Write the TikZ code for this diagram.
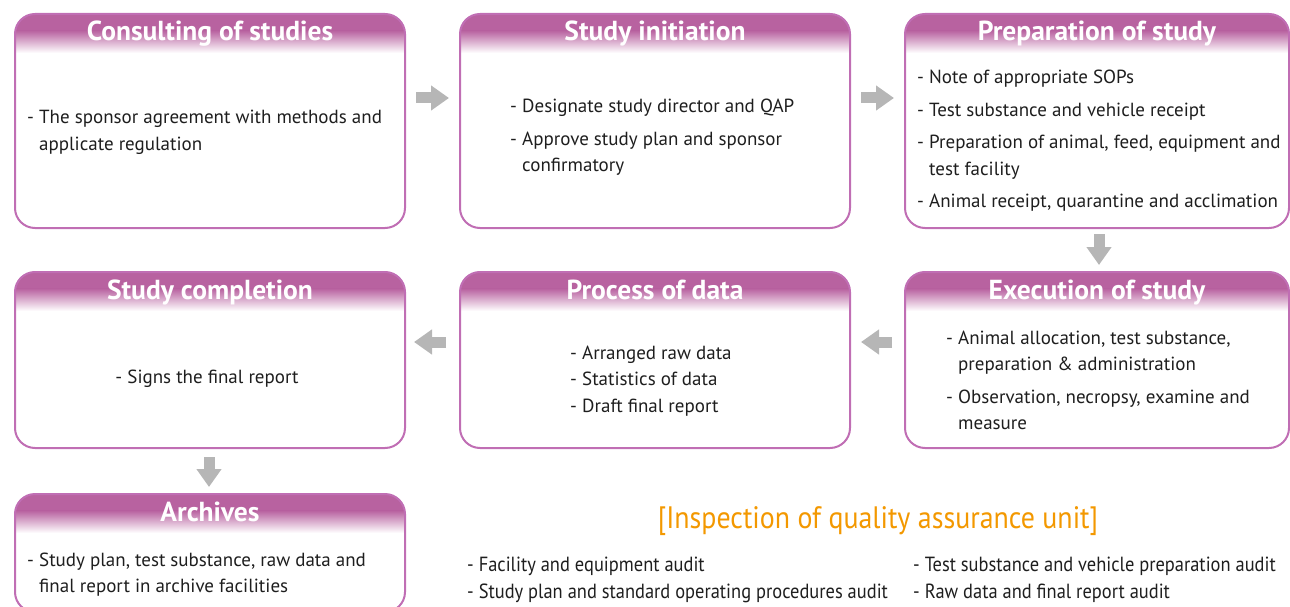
\documentclass[tikz,border=0pt]{standalone}
\usepackage{fontspec}
\setmainfont{PT Sans}
\newfontfamily\condfont[FakeStretch=0.9]{PT Sans}
\usetikzlibrary{arrows.meta}
\definecolor{hdr}{RGB}{184,98,160}
\definecolor{brd}{RGB}{192,110,180}
\definecolor{agray}{RGB}{182,182,182}
\definecolor{qaor}{RGB}{243,152,0}
\definecolor{txt}{RGB}{30,30,30}
\newcommand\dsh{\makebox[12pt][l]{-}}
\tikzset{
  box/.style={draw=brd, line width=2pt, rounded corners=20pt, inner sep=0pt,
    path picture={
      \fill[hdr, sharp corners] (path picture bounding box.north west) rectangle ([yshift=-17pt]path picture bounding box.north east);
      \shade[top color=hdr, bottom color=white, sharp corners]
      ([yshift=-16.5pt]path picture bounding box.north west) rectangle ([yshift=-39pt]path picture bounding box.north east);}},
  ttl/.style={text=white, font=\fontsize{27.5}{30}\selectfont\bfseries, inner sep=0pt, anchor=base},
  body/.style={text=txt, font=\fontsize{19}{26.5}\selectfont, inner sep=0pt, anchor=base west, align=left},
  garrow/.style={draw=agray, line width=11pt, -{Triangle[width=24pt,length=18pt]}},
  qa/.style={text=txt, font=\condfont\fontsize{20.5}{27}\selectfont, inner sep=0pt, anchor=base west, align=left},
}
\begin{document}
\begin{tikzpicture}[x=1pt,y=-1pt]
\useasboundingbox (0,0) rectangle (1290,607);
% boxes
\node[box, minimum width=390pt, minimum height=214pt] (c1) at (210,121) {};
\node[box, minimum width=390pt, minimum height=214pt] (c2) at (655,121) {};
\node[box, minimum width=384pt, minimum height=214pt] (c3) at (1097,121) {};
\node[box, minimum width=390pt, minimum height=176pt] (c4) at (210,360) {};
\node[box, minimum width=390pt, minimum height=176pt] (c5) at (655,360) {};
\node[box, minimum width=384pt, minimum height=176pt] (c6) at (1097,360) {};
\node[box, minimum width=390pt, minimum height=118pt] (c7) at (210,553) {};
% titles
\node[ttl] (t1) at ([yshift=-28pt]c1.north) {Consulting of studies};
\node[ttl] (t2) at ([yshift=-28pt]c2.north) {Study initiation};
\node[ttl] (t3) at ([yshift=-28pt]c3.north) {Preparation of study};
\node[ttl] (t4) at ([yshift=-28pt]c4.north) {Study completion};
\node[ttl] (t5) at ([yshift=-28pt]c5.north) {Process of data};
\node[ttl] (t6) at ([yshift=-28pt]c6.north) {Execution of study};
\node[ttl] (t7) at ([yshift=-28pt]c7.north) {Archives};
% bodies
\node[body] (b1) at (27,124) {\begin{tabular}[t]{@{}l@{}l@{}}\dsh & The sponsor agreement with methods and\\ & applicate regulation\end{tabular}};
\node[body] (b2) at (510,113) {\begin{tabular}[t]{@{}l@{}l@{}}\dsh & Designate study director and QAP\\[6pt] \dsh & Approve study plan and sponsor\\ & confirmatory\end{tabular}};
\node[body] (b3) at (917,84) {\begin{tabular}[t]{@{}l@{}l@{}}\dsh & Note of appropriate SOPs\\[6pt] \dsh & Test substance and vehicle receipt\\[6pt] \dsh & Preparation of animal, feed, equipment and\\ & test facility\\[6pt] \dsh & Animal receipt, quarantine and acclimation\end{tabular}};
\node[body, anchor=base] (b4) at (207,383) {\dsh Signs the final report};
\node[body] (b5) at (570,359) {\begin{tabular}[t]{@{}l@{}l@{}}\dsh & Arranged raw data\\ \dsh & Statistics of data\\ \dsh & Draft final report\end{tabular}};
\node[body] (b6) at (946,344) {\begin{tabular}[t]{@{}l@{}l@{}}\dsh & Animal allocation, test substance,\\ & preparation \& administration\\[6pt] \dsh & Observation, necropsy, examine and\\ & measure\end{tabular}};
\node[body] (b7) at (27,566) {\begin{tabular}[t]{@{}l@{}l@{}}\dsh & Study plan, test substance, raw data and\\ & final report in archive facilities\end{tabular}};
% QA
\node[text=qaor, font=\condfont\fontsize{31}{34}\selectfont, inner sep=0pt] (qt) at (878,521) {[Inspection of quality assurance unit]};
\node[qa] (q1) at (467,571) {\begin{tabular}[t]{@{}l@{}}- Facility and equipment audit\\- Study plan and standard operating procedures audit\end{tabular}};
\node[qa] (q2) at (913,571) {\begin{tabular}[t]{@{}l@{}}- Test substance and vehicle preparation audit\\- Raw data and final report audit\end{tabular}};
% arrows
\draw[garrow] ([xshift=10pt,yshift=23pt]c1.east) -- ([xshift=-10pt,yshift=23pt]c2.west);
\draw[garrow] ([xshift=10pt,yshift=23pt]c2.east) -- ([xshift=-10pt,yshift=23pt]c3.west);
\draw[garrow] ([xshift=2pt,yshift=-5pt]c3.south) -- ([xshift=2pt,yshift=6pt]c6.north);
\draw[garrow] ([xshift=-12pt,yshift=18pt]c6.west) -- ([xshift=10pt,yshift=18pt]c5.east);
\draw[garrow] ([xshift=-13pt,yshift=18pt]c5.west) -- ([xshift=8pt,yshift=18pt]c4.east);
\draw[garrow] ([xshift=-1pt,yshift=-8pt]c4.south) -- ([xshift=-1pt,yshift=6pt]c7.north);
\end{tikzpicture}
\end{document}
